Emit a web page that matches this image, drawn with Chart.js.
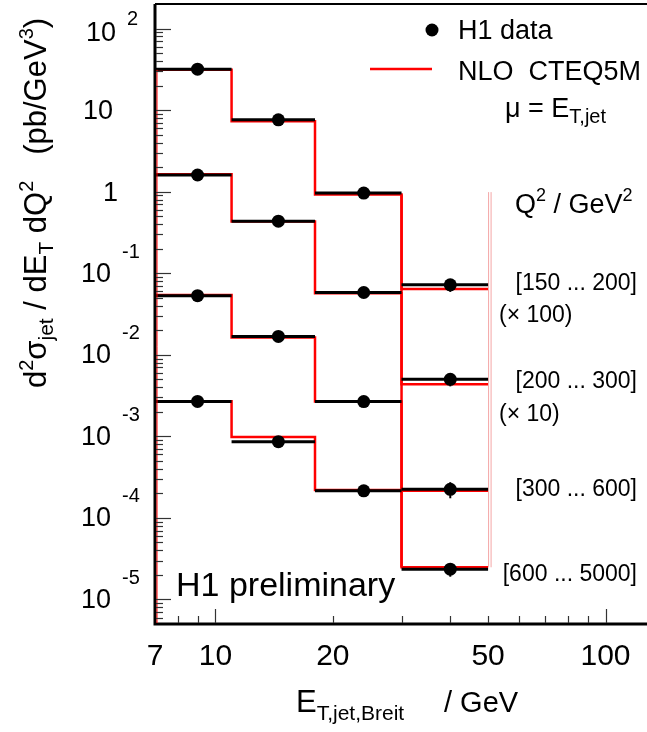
<!DOCTYPE html>
<html>
<head>
<meta charset="utf-8">
<script src="https://cdn.jsdelivr.net/npm/chart.js@4.4.1/dist/chart.umd.min.js"></script>
<style>
  html, body { margin: 0; padding: 0; background: #fff; }
</style>
</head>
<body>
<canvas id="c" width="647" height="732"></canvas>
<script>
// E_T bins (GeV)
const binLo = [7, 11, 18, 30];
const binHi = [11, 18, 30, 50];
const etCentre = [9, 14.5, 24, 40];

// H1 data, as plotted (first two already scaled x100 / x10)
const h1Q150 = [31.8, 7.6, 0.96, 0.072];
const h1Q200 = [1.60, 0.435, 0.058, 0.0050];
const h1Q300 = [0.053, 0.0168, 0.00267, 0.000224];
const h1Q600 = [0.00268, 0.00086, 0.000215, 2.35e-5];

// total errors on the data
const errQ150 = [0.6, 0.15, 0.03, 0.013];
const errQ200 = [0.03, 0.01, 0.0015, 0.0009];
const errQ300 = [0.001, 0.0004, 0.00008, 0.00005];
const errQ600 = [0.00006, 0.00003, 0.000008, 0.0000045];

// NLO CTEQ5M prediction
const nloQ150 = [31.2, 7.3, 0.92, 0.064];
const nloQ200 = [1.64, 0.43, 0.057, 0.00435];
const nloQ300 = [0.054, 0.0163, 0.00267, 0.000215];
const nloQ600 = [0.0027, 0.00098, 0.00022, 2.48e-5];

const yMin = 5e-6, yMax = 200;
const xMin = 7, xMax = 127;
const yExponents = [-5, -4, -3, -2, -1, 0, 1, 2];
const xTickLabels = [7, 10, 20, 50, 100];
const q2Ranges = ['[150 ... 200]', '[200 ... 300]', '[300 ... 600]', '[600 ... 5000]'];

const h1All = [h1Q150, h1Q200, h1Q300, h1Q600];
const errAll = [errQ150, errQ200, errQ300, errQ600];
const nloAll = [nloQ150, nloQ200, nloQ300, nloQ600];

const FONT = "'Liberation Sans', Arial, Helvetica, sans-serif";

function nloStep(vals) {
    const pts = binLo.map((x, i) => ({ x: x, y: vals[i] }));
    pts.push({ x: binHi[binHi.length - 1], y: vals[vals.length - 1] });
    return pts;
}

// dots first so they are painted last (on top)
const datasets = [{
    type: 'scatter',
    data: h1All.flatMap(s => s.map((v, i) => ({ x: etCentre[i], y: v }))),
    pointRadius: 6.5,
    pointBackgroundColor: '#000',
    pointBorderWidth: 0
}];
nloAll.forEach(s => {
    datasets.push({
        type: 'line',
        data: nloStep(s),
        stepped: true,
        borderColor: '#ff0000',
        borderWidth: 2.5,
        pointRadius: 0,
        fill: false
    });
});

function rich(ctx, parts, x, y) {
    let cx = x;
    parts.forEach(p => {
        ctx.font = p.size + 'px ' + FONT;
        ctx.fillText(p.t, cx, y + (p.dy || 0));
        cx += ctx.measureText(p.t).width;
    });
    return cx;
}

const h1Plot = {
    id: 'h1Plot',
    afterDatasetsDraw(chart) {
        const ctx = chart.ctx;
        const xs = chart.scales.x, ys = chart.scales.y;
        const a = chart.chartArea;
        ctx.save();

        // red vertical at 30 GeV running through all histograms
        ctx.strokeStyle = '#ff0000';
        ctx.lineWidth = 2.5;
        ctx.beginPath();
        ctx.moveTo(xs.getPixelForValue(binLo[3]), ys.getPixelForValue(nloQ150[2]));
        ctx.lineTo(xs.getPixelForValue(binLo[3]), ys.getPixelForValue(nloQ600[3]));
        ctx.stroke();

        // pale closing edges at 50 GeV
        const x50 = xs.getPixelForValue(binHi[3]);
        ctx.strokeStyle = '#f4a6a6';
        ctx.lineWidth = 1;
        [0.5, 3].forEach(o => {
            ctx.beginPath();
            ctx.moveTo(x50 + o, ys.getPixelForValue(h1Q150[2]) - 1);
            ctx.lineTo(x50 + o, ys.getPixelForValue(nloQ600[3]));
            ctx.stroke();
        });

        // data: bin-width bars and vertical errors
        ctx.strokeStyle = '#000';
        h1All.forEach((s, k) => {
            s.forEach((v, i) => {
                const py = ys.getPixelForValue(v);
                ctx.lineWidth = 3;
                ctx.beginPath();
                ctx.moveTo(xs.getPixelForValue(binLo[i]), py);
                ctx.lineTo(xs.getPixelForValue(binHi[i]), py);
                ctx.stroke();
                const px = xs.getPixelForValue(etCentre[i]);
                ctx.lineWidth = 2;
                ctx.beginPath();
                ctx.moveTo(px, ys.getPixelForValue(v + errAll[k][i]));
                ctx.lineTo(px, ys.getPixelForValue(v - errAll[k][i]));
                ctx.stroke();
            });
        });

        // frame
        ctx.strokeStyle = '#000';
        ctx.lineWidth = 2;
        ctx.beginPath();
        ctx.moveTo(a.left, a.top);
        ctx.lineTo(a.right + 2, a.top);
        ctx.stroke();
        ctx.lineWidth = 3;
        ctx.beginPath();
        ctx.moveTo(a.left, a.top);
        ctx.lineTo(a.left, a.bottom);
        ctx.lineTo(a.right + 2, a.bottom);
        ctx.stroke();
        // thin red along the left edge (histogram left edges)
        ctx.strokeStyle = '#ff0000';
        ctx.lineWidth = 1;
        ctx.beginPath();
        ctx.moveTo(a.left + 2, ys.getPixelForValue(nloQ150[0]));
        ctx.lineTo(a.left + 2, a.bottom - 1);
        ctx.stroke();

        // ticks, pointing inwards
        ctx.strokeStyle = '#333';
        ctx.lineWidth = 1.2;
        for (let d = -6; d <= 2; d++) {
            for (let m = 1; m <= 9; m++) {
                const v = m * Math.pow(10, d);
                if (v <= yMin || v >= yMax) continue;
                const py = Math.round(ys.getPixelForValue(v)) + 0.5;
                ctx.beginPath();
                ctx.moveTo(a.left + 1, py);
                ctx.lineTo(a.left + (m === 1 ? 16 : 8), py);
                ctx.stroke();
            }
        }
        for (let d = 0; d <= 2; d++) {
            for (let m = 1; m <= 9; m++) {
                const v = m * Math.pow(10, d);
                if (v <= xMin || v >= xMax) continue;
                const px = Math.round(xs.getPixelForValue(v)) + 0.5;
                ctx.beginPath();
                ctx.moveTo(px, a.bottom - 1);
                ctx.lineTo(px, a.bottom - (m === 1 ? 15 : 8));
                ctx.stroke();
            }
        }

        ctx.fillStyle = '#000';
        ctx.textBaseline = 'middle';

        // y tick labels (ROOT style 10 with exponent up-right)
        yExponents.forEach(n => {
            const py = ys.getPixelForValue(Math.pow(10, n));
            ctx.font = '27px ' + FONT;
            ctx.textAlign = 'right';
            if (n === 0) {
                ctx.fillText('1', 118, py + 2);
            } else if (n === 1) {
                ctx.fillText('10', 113, py + 1);
            } else if (n === 2) {
                ctx.fillText('10', 116, py + 5);
                ctx.font = '20px ' + FONT;
                ctx.textAlign = 'left';
                ctx.fillText(String(n), 127, py - 9);
            } else {
                ctx.fillText('10', 111, py + 1);
                ctx.font = '20px ' + FONT;
                ctx.textAlign = 'left';
                ctx.fillText(String(n), 122, py - 21);
            }
        });

        // x tick labels
        ctx.font = '30px ' + FONT;
        ctx.textAlign = 'center';
        xTickLabels.forEach(v => {
            ctx.fillText(String(v), xs.getPixelForValue(v), 657);
        });

        // Q2 range labels
        ctx.font = '23px ' + FONT;
        ctx.textAlign = 'right';
        const rangeY = [284, 382, 490, 575];
        q2Ranges.forEach((t, i) => ctx.fillText(t, 637, rangeY[i]));
        ctx.textAlign = 'left';
        ctx.fillText('(\u00d7 100)', 499, 316);
        ctx.fillText('(\u00d7 10)', 499, 415);

        ctx.textBaseline = 'alphabetic';
        // Q2 header
        rich(ctx, [
            { t: 'Q', size: 27 }, { t: '2', size: 18, dy: -12 },
            { t: ' / GeV', size: 27 }, { t: '2', size: 18, dy: -12 }
        ], 515, 213);

        // legend
        ctx.beginPath();
        ctx.arc(432, 30, 6.5, 0, Math.PI * 2);
        ctx.fill();
        ctx.font = '27px ' + FONT;
        ctx.fillText('H1 data', 458, 39);
        ctx.fillText('NLO  CTEQ5M', 458, 80);
        ctx.strokeStyle = '#ff0000';
        ctx.lineWidth = 2.5;
        ctx.beginPath();
        ctx.moveTo(370, 69);
        ctx.lineTo(432, 69);
        ctx.stroke();
        rich(ctx, [
            { t: '\u03bc = E', size: 27 }, { t: 'T,jet', size: 20, dy: 6 }
        ], 505, 117);

        // H1 preliminary
        ctx.font = '34px ' + FONT;
        ctx.fillText('H1 preliminary', 176, 596);

        // x title
        rich(ctx, [
            { t: 'E', size: 31 }, { t: 'T,jet,Breit', size: 21, dy: 8 }
        ], 296, 712);
        rich(ctx, [{ t: '/ GeV', size: 29 }], 444, 712);

        // y title, rotated
        ctx.translate(46, 388);
        ctx.rotate(-Math.PI / 2);
        rich(ctx, [
            { t: 'd', size: 31 }, { t: '2', size: 20, dy: -13 },
            { t: '\u03c3', size: 31 }, { t: 'jet', size: 21, dy: 7 },
            { t: ' / dE', size: 31 }, { t: 'T', size: 21, dy: 7 },
            { t: ' dQ', size: 31 }, { t: '2', size: 20, dy: -13 },
            { t: '   (pb/GeV', size: 31 }, { t: '3', size: 20, dy: -13 },
            { t: ')', size: 31 }
        ], 0, 0);

        ctx.restore();
    }
};

new Chart(document.getElementById('c'), {
    data: { datasets: datasets },
    options: {
        responsive: false,
        animation: false,
        devicePixelRatio: 1,
        layout: { autoPadding: false, padding: { left: 155, right: 1, top: 4, bottom: 108 } },
        plugins: { legend: { display: false }, tooltip: { enabled: false } },
        scales: {
            x: { type: 'logarithmic', min: xMin, max: xMax, display: false },
            y: { type: 'logarithmic', min: yMin, max: yMax, display: false }
        }
    },
    plugins: [h1Plot]
});
</script>
</body>
</html>
